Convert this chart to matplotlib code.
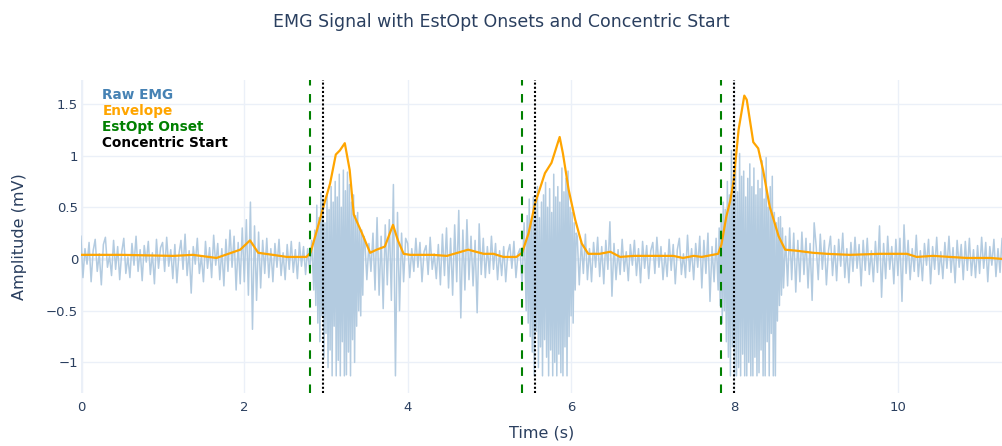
import numpy as np
import matplotlib
matplotlib.use("Agg")
import matplotlib.pyplot as plt

# ---------------- data ----------------
# Raw EMG in segments (start time, sample step, values)
raw_quiet_a_start, raw_quiet_a_step = 0.0, 0.025
raw_quiet_a = [
    0.22, -0.18, 0.10, -0.05, 0.16, -0.22, 0.08, 0.19, -0.12, 0.05, -0.25, 0.14, 0.21, -0.08, 0.03, -0.16, 0.18, -0.10, 0.12, -0.20,
    0.07, 0.20, -0.14, 0.02, -0.18, 0.15, -0.06, 0.22, -0.12, 0.09, -0.21, 0.13, -0.03, 0.17, -0.15, 0.06, -0.24, 0.19, -0.09, 0.11,
    0.16, -0.12, 0.21, -0.07, 0.09, -0.19, 0.14, -0.23, 0.05, 0.18, -0.10, 0.24, -0.16, 0.08, -0.33, 0.12, -0.05, 0.20, -0.14, 0.03,
    -0.22, 0.17, -0.09, 0.11, -0.18, 0.23, -0.06, 0.15, -0.20, 0.10, -0.26, 0.19, -0.12, 0.28, -0.08, 0.22, -0.30, 0.16, -0.24, 0.30,
    -0.22, 0.38, -0.35, 0.55, -0.68, 0.32, -0.40, 0.26, -0.28, 0.18, -0.14, 0.20, -0.18, 0.10, -0.22, 0.15, -0.08, 0.19, -0.16, 0.06,
    -0.20, 0.14, -0.10, 0.17, -0.13, 0.09, -0.19, 0.16, -0.07, 0.12, -0.15, 0.10, -0.12, 0.18,
]
raw_burst_1_start, raw_burst_1_step = 2.85, 0.0125
raw_burst_1 = [
    -0.30, 0.28, -0.45, 0.52, -0.62, 0.40, -0.80, 0.64, -0.55, 0.58, -0.95, 0.35, -0.72, 0.62, -1.05, 0.48,
    -0.88, 0.70, -1.13, 0.55, -0.65, 0.75, -1.13, 0.60, -0.98, 0.82, -1.13, 0.50, -0.80, 0.86, -1.13, 0.66,
    -1.12, 0.84, -0.90, 0.72, -1.13, 0.55, -0.78, 0.62, -1.00, 0.42, -0.65, 0.45, -0.50, 0.30, -0.55, 0.28,
    -0.35, 0.22,
]
raw_quiet_b_start, raw_quiet_b_step = 3.475, 0.025
raw_quiet_b = [
    0.18, -0.20, 0.15, -0.12, 0.25, -0.30, 0.40, -0.35, 0.22, -0.48, 0.33, -0.25, 0.38, -0.40, 0.72, -1.13, 0.45, -0.50, 0.25, -0.22,
    0.20,
    0.15, -0.18, 0.10, -0.12, 0.20, -0.08, 0.16, -0.22, 0.07, 0.13, -0.15, 0.21, -0.10, 0.05, -0.19, 0.14, -0.25, 0.24, -0.16, 0.30,
    -0.28, 0.20, -0.35, 0.33, -0.22, 0.47, -0.57, 0.28, -0.30, 0.38, -0.20, 0.22, -0.26, 0.18, -0.52, 0.34, -0.15, 0.20, -0.18, 0.12,
    -0.14, 0.22, -0.10, 0.15, -0.20, 0.08, -0.16, 0.12, -0.22, 0.06, 0.14, -0.09, 0.17, -0.18, 0.05, 0.10, -0.25, 0.35,
]
raw_burst_2_start, raw_burst_2_step = 5.45, 0.0125
raw_burst_2 = [
    -0.50, 0.42, -0.62, 0.58, -0.75, 0.35, -0.90, 0.60, -1.13, 0.48, -0.70, 0.70, -1.05, 0.40, -0.85, 0.55,
    -1.13, 0.62, -0.78, 0.74, -0.95, 0.50, -1.13, 0.68, -0.88, 0.45, -1.13, 0.82, -1.00, 0.60, -1.13, 0.70,
    -0.92, 0.55, -1.10, 0.88, -1.13, 0.65, -0.85, 0.78, -1.13, 0.85, -0.75, 0.50, -0.55, 0.45, -0.62, 0.35,
    -0.30, 0.25,
]
raw_quiet_c_start, raw_quiet_c_step = 6.075, 0.025
raw_quiet_c = [
    0.22, -0.25, 0.18, -0.14, 0.24, -0.20, 0.10, -0.22, 0.16, -0.08, 0.21, -0.17, 0.12, -0.24, 0.18, -0.10, 0.36, -0.36, 0.15, -0.20,
    0.09, -0.15, 0.19, -0.12, 0.07, -0.21, 0.14, -0.06, 0.18, -0.16, 0.10, -0.23, 0.17, -0.09, 0.13, -0.19, 0.08,
    0.16, -0.14, 0.21, -0.08, 0.12, -0.20, 0.06, -0.17, 0.19, -0.11, 0.14, -0.24, 0.09, 0.20, -0.15, 0.05, -0.18, 0.23, -0.12, 0.10,
    -0.20, 0.15, -0.08, 0.22, -0.28, 0.18, -0.14, 0.25, -0.41, 0.12, -0.22, 0.20, -0.30,
]
raw_burst_3_start, raw_burst_3_step = 7.8125, 0.0125
raw_burst_3 = [
    0.30, -0.45, 0.40, -0.62, 0.55, -0.50, 0.48, -0.80, 0.75, -0.95, 0.62, -1.13, 1.05, -0.85, 0.70, -1.13,
    0.90, -1.13, 0.65, -1.05, 1.02, -1.13, 0.80, -0.92, 0.85, -1.13, 0.60, -1.13, 0.78, -1.00, 0.92, -1.13,
    0.70, -1.13, 0.88, -0.95, 0.62, -1.13, 0.76, -1.10, 0.68, -0.88, 0.95, -1.13, 0.58, -1.13, 0.98, -0.80,
    0.50, -1.13, 0.70, -0.72, 0.80, -1.13, 0.45, -1.13, 0.35, -0.60, 0.40, -0.45, 0.41, -0.35, 0.30, -0.28,
]
raw_quiet_d_start, raw_quiet_d_step = 8.625, 0.025
raw_quiet_d = [
    0.22, -0.26, 0.30, -0.20, 0.25, -0.32, 0.18, -0.22, 0.26, -0.15, 0.20, -0.28, 0.15, -0.40, 0.35,
    0.12, -0.20, 0.24, -0.10, 0.18, -0.25, 0.08, 0.22, -0.16, 0.13, -0.21, 0.19, -0.07, 0.25, -0.18, 0.10, -0.23, 0.16, -0.12, 0.21,
    -0.09, 0.14, -0.26, 0.18, -0.11, 0.20, -0.15, 0.08, -0.22, 0.17, -0.13, 0.32, -0.37, 0.15, -0.19, 0.22, -0.10, 0.12, -0.24, 0.19,
    -0.16, 0.20, -0.41, 0.33, -0.14, 0.18, -0.20, 0.10, -0.12, 0.23, -0.17, 0.08, -0.21, 0.15, -0.06, 0.19, -0.24, 0.12, -0.10, 0.21,
    -0.15, 0.07, -0.19, 0.16, -0.09, 0.22, -0.13, 0.11, -0.23, 0.18, -0.08, 0.14, -0.20, 0.17, -0.11, 0.20, -0.16, 0.09, -0.18, 0.13,
    -0.14, 0.21, -0.09, 0.16, -0.22, 0.12, -0.06, 0.19, -0.17, 0.10, -0.13, 0.20, -0.08,
]

envelope_t = [0.00, 0.50, 1.13, 1.37, 1.66, 1.95, 2.07, 2.17, 2.35, 2.52, 2.76, 2.81, 2.89, 2.97, 3.05, 3.12,
              3.17, 3.23, 3.29, 3.34, 3.44, 3.54, 3.62, 3.72, 3.82, 3.88, 3.95, 4.03, 4.31, 4.48, 4.74, 4.93,
              5.05, 5.17, 5.33, 5.40, 5.48, 5.56, 5.68, 5.76, 5.86, 5.90, 5.97, 6.05, 6.13, 6.21, 6.35, 6.48,
              6.60, 6.77, 7.25, 7.37, 7.50, 7.60, 7.80, 7.84, 7.90, 7.95, 7.99, 8.05, 8.12, 8.15, 8.23, 8.29,
              8.35, 8.43, 8.54, 8.62, 8.76, 8.96, 9.13, 9.41, 9.78, 10.11, 10.23, 10.43, 10.84, 11.13, 11.29]
envelope_v = [0.04, 0.04, 0.03, 0.04, 0.01, 0.09, 0.18, 0.06, 0.04, 0.02, 0.02, 0.06, 0.28, 0.51, 0.73, 1.01,
              1.05, 1.12, 0.86, 0.43, 0.25, 0.06, 0.09, 0.12, 0.33, 0.18, 0.05, 0.04, 0.04, 0.03, 0.09, 0.05,
              0.05, 0.02, 0.02, 0.06, 0.25, 0.54, 0.83, 0.93, 1.18, 1.02, 0.67, 0.38, 0.15, 0.05, 0.05, 0.07,
              0.02, 0.03, 0.03, 0.01, 0.03, 0.02, 0.05, 0.14, 0.41, 0.57, 0.76, 1.25, 1.58, 1.54, 1.13, 1.07,
              0.86, 0.51, 0.22, 0.09, 0.08, 0.06, 0.05, 0.04, 0.05, 0.05, 0.02, 0.03, 0.01, 0.01, 0.00]

estopt_onsets = [2.81, 5.40, 7.83]
concentric_starts = [2.96, 5.56, 7.99]

legend_labels = ["Raw EMG", "Envelope", "EstOpt Onset", "Concentric Start"]
x_ticks = [0, 2, 4, 6, 8, 10]
y_ticks = [-1, -0.5, 0, 0.5, 1, 1.5]
y_tick_labels = ["\u22121", "\u22120.5", "0", "0.5", "1", "1.5"]

# ---------------- assemble raw series ----------------
segments = [
    (raw_quiet_a_start, raw_quiet_a_step, raw_quiet_a),
    (raw_burst_1_start, raw_burst_1_step, raw_burst_1),
    (raw_quiet_b_start, raw_quiet_b_step, raw_quiet_b),
    (raw_burst_2_start, raw_burst_2_step, raw_burst_2),
    (raw_quiet_c_start, raw_quiet_c_step, raw_quiet_c),
    (raw_burst_3_start, raw_burst_3_step, raw_burst_3),
    (raw_quiet_d_start, raw_quiet_d_step, raw_quiet_d),
]
t_raw = np.concatenate([s + st * np.arange(len(v)) for s, st, v in segments])
v_raw = np.concatenate([np.asarray(v, float) for _, _, v in segments])

# ---------------- style ----------------
W, H, DPI = 1003, 446, 100
text_col = "#2a3f5f"
grid_col = "#EBF0F8"
raw_col = "#B3CBE0"
legend_cols = ["#4682B4", "#FFA500", "#008000", "#000000"]

plt.rcParams["font.family"] = ["DejaVu Sans"]

fig = plt.figure(figsize=(W / DPI, H / DPI), dpi=DPI)
ax_left, ax_right, ax_top, ax_bot = 80.9, 1003, 80, 393
ax = fig.add_axes([ax_left / W, 1 - ax_bot / H, (ax_right - ax_left) / W, (ax_bot - ax_top) / H])

ax.plot(t_raw, v_raw, color=raw_col, lw=1.1, zorder=3)
ax.plot(envelope_t, envelope_v, color="#FFA500", lw=1.6, zorder=4, solid_joinstyle="round")
for x in estopt_onsets:
    ax.axvline(x, color="#008000", lw=1.5, ls=(0, (4.1, 4.1)), zorder=5)
for x in concentric_starts:
    ax.axvline(x, color="black", lw=1.5, ls=(0, (1, 1)), zorder=5)

ax.set_xlim(0, (ax_right - ax_left) / 81.7)
ax.set_ylim(-1.296, 1.731)

ax.set_xticks(x_ticks)
ax.set_yticks(y_ticks)
ax.set_yticklabels(y_tick_labels)
ax.tick_params(axis="both", length=0, labelsize=9.5, colors=text_col)
ax.tick_params(axis="x", pad=6)
ax.tick_params(axis="y", pad=2)
ax.grid(True, color=grid_col, lw=1, zorder=0)
ax.axhline(0, color=grid_col, lw=2, zorder=1)
ax.axvline(0, color=grid_col, lw=2.5, zorder=1)
for s in ax.spines.values():
    s.set_visible(False)
ax.set_axisbelow(True)

fig.text((ax_left + ax_right) / 2 / W, 1 - 433 / H, "Time (s)", ha="center", va="center",
         fontsize=11.5, color=text_col)
fig.text(20 / W, 1 - 237 / H, "Amplitude (mV)", ha="center", va="center", rotation=90,
         fontsize=11.5, color=text_col)
fig.text(0.5, 1 - 22 / H, "EMG Signal with EstOpt Onsets and Concentric Start", ha="center", va="center",
         fontsize=12.5, color=text_col)

for i, (lab, c) in enumerate(zip(legend_labels, legend_cols)):
    fig.text(102.3 / W, 1 - (95 + 16.1 * i) / H, lab, ha="left", va="center", fontsize=9.8,
             fontweight="bold", color=c)

fig.savefig("out.png", dpi=DPI)
